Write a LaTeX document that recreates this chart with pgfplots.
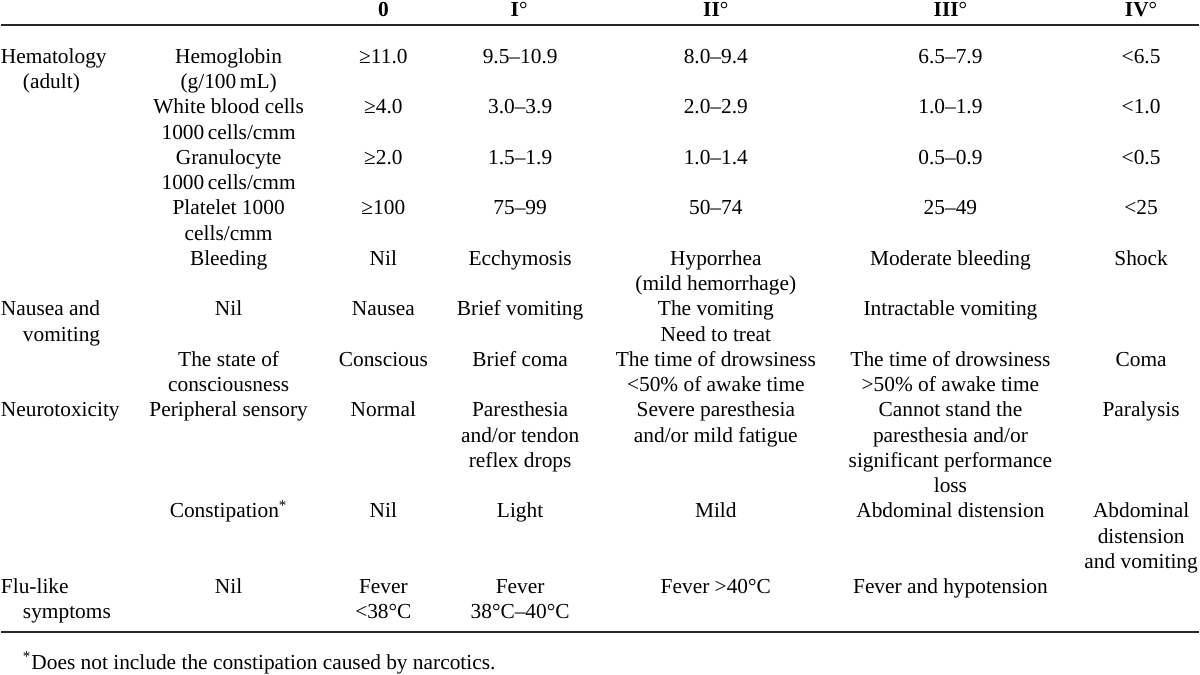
\documentclass[border=0pt]{standalone}
\usepackage{fontspec}
\setmainfont{Liberation Serif}
\usepackage{pgfplots}
\pgfplotsset{compat=1.18}
\newcommand{\dg}{°}
\newcommand{\R}[1]{{58.5+25.3*#1}}
\begin{document}
\fontsize{10.7}{12.6}\selectfont
\begin{tikzpicture}[every node/.style={inner sep=0pt,outer sep=0pt,font=\fontsize{10.7}{12.6}\selectfont}]
\begin{axis}[width=600pt,height=336pt,scale only axis,
  xmin=0,xmax=1200,ymin=0,ymax=672,y dir=reverse,
  axis lines=none,clip=false]
% invisible frame
\addplot[draw=none] coordinates {(0,0) (1200,672)};
% rules
\addplot[black!85,line width=1pt] coordinates {(0,25) (1200,25)};
\addplot[black!85,line width=1pt] coordinates {(0,633) (1200,633)};
% headers
\node[anchor=base] at (axis cs:383,16.5) {\textbf{0}};
\node[anchor=base] at (axis cs:519,16.5) {\textbf{I}°};
\node[anchor=base] at (axis cs:716,16.5) {\textbf{II}°};
\node[anchor=base] at (axis cs:951,16.5) {\textbf{III}°};
\node[anchor=base] at (axis cs:1142,16.5) {\textbf{IV}°};
% left column
\node[anchor=mid west] at (axis cs:0,\R{0}) {Hematology};
\node[anchor=mid west] at (axis cs:22,\R{1}) {(adult)};
\node[anchor=mid west] at (axis cs:0,\R{10}) {Nausea and};
\node[anchor=mid west] at (axis cs:22,\R{11}) {vomiting};
\node[anchor=mid west] at (axis cs:0,\R{14}) {Neurotoxicity};
\node[anchor=mid west] at (axis cs:0,\R{21}) {Flu-like};
\node[anchor=mid west] at (axis cs:22,\R{22}) {symptoms};
% column 2
\node[anchor=mid] at (axis cs:228,\R{0}) {Hemoglobin};
\node[anchor=mid] at (axis cs:228,\R{1}) {(g/100\,mL)};
\node[anchor=mid] at (axis cs:228,\R{2}) {White blood cells};
\node[anchor=mid] at (axis cs:228,\R{3}) {1000\,cells/cmm};
\node[anchor=mid] at (axis cs:228,\R{4}) {Granulocyte};
\node[anchor=mid] at (axis cs:228,\R{5}) {1000\,cells/cmm};
\node[anchor=mid] at (axis cs:228,\R{6}) {Platelet 1000};
\node[anchor=mid] at (axis cs:228,\R{7}) {cells/cmm};
\node[anchor=mid] at (axis cs:228,\R{8}) {Bleeding};
\node[anchor=mid] at (axis cs:228,\R{10}) {Nil};
\node[anchor=mid] at (axis cs:228,\R{12}) {The state of};
\node[anchor=mid] at (axis cs:228,\R{13}) {consciousness};
\node[anchor=mid] at (axis cs:228,\R{14}) {Peripheral sensory};
\node[anchor=mid] at (axis cs:228,\R{18}) {Constipation\textsuperscript{*}};
\node[anchor=mid] at (axis cs:228,\R{21}) {Nil};
% column 3 (0)
\node[anchor=mid] at (axis cs:383,\R{0}) {≥11.0};
\node[anchor=mid] at (axis cs:383,\R{2}) {≥4.0};
\node[anchor=mid] at (axis cs:383,\R{4}) {≥2.0};
\node[anchor=mid] at (axis cs:383,\R{6}) {≥100};
\node[anchor=mid] at (axis cs:383,\R{8}) {Nil};
\node[anchor=mid] at (axis cs:383,\R{10}) {Nausea};
\node[anchor=mid] at (axis cs:383,\R{12}) {Conscious};
\node[anchor=mid] at (axis cs:383,\R{14}) {Normal};
\node[anchor=mid] at (axis cs:383,\R{18}) {Nil};
\node[anchor=mid] at (axis cs:383,\R{21}) {Fever};
\node[anchor=mid] at (axis cs:383,\R{22}) {<38\dg C};
% column 4 (I)
\node[anchor=mid] at (axis cs:520,\R{0}) {9.5--10.9};
\node[anchor=mid] at (axis cs:520,\R{2}) {3.0--3.9};
\node[anchor=mid] at (axis cs:520,\R{4}) {1.5--1.9};
\node[anchor=mid] at (axis cs:520,\R{6}) {75--99};
\node[anchor=mid] at (axis cs:520,\R{8}) {Ecchymosis};
\node[anchor=mid] at (axis cs:520,\R{10}) {Brief vomiting};
\node[anchor=mid] at (axis cs:520,\R{12}) {Brief coma};
\node[anchor=mid] at (axis cs:520,\R{14}) {Paresthesia};
\node[anchor=mid] at (axis cs:520,\R{15}) {and/or tendon};
\node[anchor=mid] at (axis cs:520,\R{16}) {reflex drops};
\node[anchor=mid] at (axis cs:520,\R{18}) {Light};
\node[anchor=mid] at (axis cs:520,\R{21}) {Fever};
\node[anchor=mid] at (axis cs:520,\R{22}) {38\dg C--40\dg C};
% column 5 (II)
\node[anchor=mid] at (axis cs:716,\R{0}) {8.0--9.4};
\node[anchor=mid] at (axis cs:716,\R{2}) {2.0--2.9};
\node[anchor=mid] at (axis cs:716,\R{4}) {1.0--1.4};
\node[anchor=mid] at (axis cs:716,\R{6}) {50--74};
\node[anchor=mid] at (axis cs:716,\R{8}) {Hyporrhea};
\node[anchor=mid] at (axis cs:716,\R{9}) {(mild hemorrhage)};
\node[anchor=mid] at (axis cs:716,\R{10}) {The vomiting};
\node[anchor=mid] at (axis cs:716,\R{11}) {Need to treat};
\node[anchor=mid] at (axis cs:716,\R{12}) {The time of drowsiness};
\node[anchor=mid] at (axis cs:716,\R{13}) {<50\% of awake time};
\node[anchor=mid] at (axis cs:716,\R{14}) {Severe paresthesia};
\node[anchor=mid] at (axis cs:716,\R{15}) {and/or mild fatigue};
\node[anchor=mid] at (axis cs:716,\R{18}) {Mild};
\node[anchor=mid] at (axis cs:716,\R{21}) {Fever >40\dg C};
% column 6 (III)
\node[anchor=mid] at (axis cs:951,\R{0}) {6.5--7.9};
\node[anchor=mid] at (axis cs:951,\R{2}) {1.0--1.9};
\node[anchor=mid] at (axis cs:951,\R{4}) {0.5--0.9};
\node[anchor=mid] at (axis cs:951,\R{6}) {25--49};
\node[anchor=mid] at (axis cs:951,\R{8}) {Moderate bleeding};
\node[anchor=mid] at (axis cs:951,\R{10}) {Intractable vomiting};
\node[anchor=mid] at (axis cs:951,\R{12}) {The time of drowsiness};
\node[anchor=mid] at (axis cs:951,\R{13}) {>50\% of awake time};
\node[anchor=mid] at (axis cs:951,\R{14}) {Cannot stand the};
\node[anchor=mid] at (axis cs:951,\R{15}) {paresthesia and/or};
\node[anchor=mid] at (axis cs:951,\R{16}) {significant performance};
\node[anchor=mid] at (axis cs:951,\R{17}) {loss};
\node[anchor=mid] at (axis cs:951,\R{18}) {Abdominal distension};
\node[anchor=mid] at (axis cs:951,\R{21}) {Fever and hypotension};
% column 7 (IV)
\node[anchor=mid] at (axis cs:1142,\R{0}) {<6.5};
\node[anchor=mid] at (axis cs:1142,\R{2}) {<1.0};
\node[anchor=mid] at (axis cs:1142,\R{4}) {<0.5};
\node[anchor=mid] at (axis cs:1142,\R{6}) {<25};
\node[anchor=mid] at (axis cs:1142,\R{8}) {Shock};
\node[anchor=mid] at (axis cs:1142,\R{12}) {Coma};
\node[anchor=mid] at (axis cs:1142,\R{14}) {Paralysis};
\node[anchor=mid] at (axis cs:1142,\R{18}) {Abdominal};
\node[anchor=mid] at (axis cs:1142,\R{19}) {distension};
\node[anchor=mid] at (axis cs:1142,\R{20}) {and vomiting};
% footnote
\node[anchor=mid west] at (axis cs:22,666) {\textsuperscript{*}Does not include the constipation caused by narcotics.};
\end{axis}
\end{tikzpicture}
\end{document}
